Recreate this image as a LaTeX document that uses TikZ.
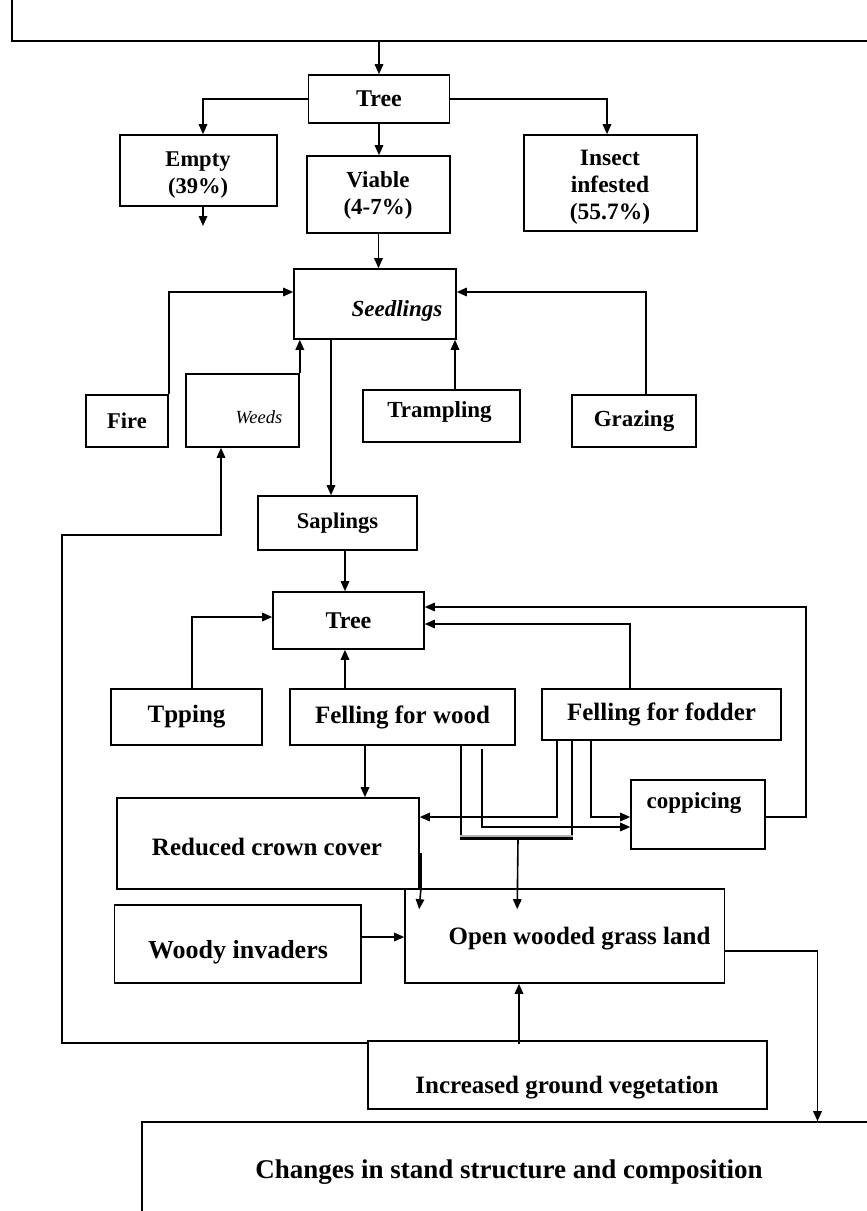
\documentclass[tikz,border=0pt]{standalone}
\usepackage{fontspec}
\setmainfont{Liberation Serif}
\usetikzlibrary{arrows.meta}
\begin{document}
\begin{tikzpicture}[x=1pt,y=-1pt,
  ln/.style={line width=1.6pt},
  box/.style 2 args={draw, line width=1.6pt, inner sep=0pt, minimum width=#1pt, minimum height=#2pt},
  t/.style={inner sep=0pt, align=center, font=\bfseries\fontsize{#1}{27}\selectfont},
  arr/.style={line width=1.6pt, -{Triangle[length=10pt,width=8.5pt]}}]
\useasboundingbox (0,0) rectangle (867,1211);
\clip (0,0) rectangle (867,1211);

% ---- top part
\coordinate (tl) at (12,-2);
\coordinate (tr) at (880,41);
\node[box={141}{48}, t=24] (tree1) at (379,99) {Tree};
\node[box={157}{71}] (empty) at (198.5,170.5) {};
\node[t=22.5] (emptyT) at (198,175) {Empty\\(39\%)};
\node[box={173}{96}] (insect) at (610.5,183) {};
\node[t=23.5] (insectT) at (610,187) {Insect\\infested\\(55.7\%)};
\node[box={143}{77}] (viable) at (378.5,194.5) {};
\node[t=23] (viableT) at (378,195) {Viable\\(4-7\%)};
\coordinate (emptyout) at (203,226);

% ---- seedlings part
\node[box={162}{70}] (seed) at (375,304) {};
\node[t=23] (seedT) at (397,311) {\itshape Seedlings};
\node[box={82}{52}, t=22.5] (fire) at (127,421) {Fire};
\node[box={113}{73}] (weeds) at (242.5,410.5) {};
\node[inner sep=0pt, font=\itshape\fontsize{18.5}{20}\selectfont] (weedsT) at (259,417) {Weeds};
\node[box={157}{52}] (tramp) at (441.5,416) {};
\node[t=23] (trampT) at (439.5,412) {Trampling};
\node[box={124}{52}, t=23] (graz) at (634,421) {Grazing};
\node[box={159}{54}, t=22.5] (sap) at (337.5,523) {Saplings};
\coordinate (lp) at (62,535);

% ---- tree part
\node[box={151}{57}, t=24] (tree2) at (348.5,620.5) {Tree};
\node[box={151}{56}, t=25] (tpp) at (186.5,717) {Tpping};
\node[box={225}{56}, t=25] (ffw) at (402.5,717) {Felling for wood};
\node[box={239}{51}, t=25] (fff) at (661.5,714.5) {Felling for fodder};
\node[box={134}{69}] (copp) at (698,814.5) {};
\node[t=23] (coppT) at (694,803) {coppicing};
\node[box={302}{91}] (rcc) at (268,843.5) {};
\node[t=25] (rccT) at (267,847) {Reduced crown cover};

% ---- bottom part
\node[box={319.5}{94}] (open) at (564.75,936) {};
\node[t=25] (openT) at (579.5,939) {Open wooded grass land};
\node[box={246.5}{78}] (woody) at (237.75,944) {};
\node[t=26] (woodyT) at (238,952) {Woody invaders};
\node[box={399}{68}] (incr) at (567.5,1075) {};
\node[t=25] (incrT) at (567,1088) {Increased ground vegetation};
\node[box={760}{140}] (chg) at (522,1192) {};
\node[t=27] (chgT) at (509,1172) {Changes in stand structure and composition};

\coordinate (barL) at (460,836);
\coordinate (barR) at (573,836);
\coordinate (barM) at (518,839);

% ---- connectors
\draw[ln] (tl) |- (tr);
\draw[arr] (tree1.north |- tr) -- (tree1.north);
\draw[arr] (tree1.west) -| ([xshift=4.5pt]empty.north);
\draw[arr] ([xshift=4.5pt]empty.south) -- (emptyout);
\draw[arr] (tree1.east) -| ([xshift=-3.5pt]insect.north);
\draw[arr] (tree1.south) -- (tree1.south |- viable.north);
\draw[arr] (viable.south) -- (viable.south |- seed.north);

\draw[arr] (fire.north east) |- ([yshift=12pt]seed.west);
\draw[arr] (weeds.north east) -- (weeds.north east |- seed.south);
\draw[arr] ([xshift=13.5pt]tramp.north) -- ([xshift=80pt]seed.south);
\draw[arr] ([xshift=12pt]graz.north) |- ([yshift=12pt]seed.east);
\draw[arr] ([xshift=-44pt]seed.south) -- ([xshift=-6.5pt]sap.north);
\draw[arr] ([yshift=-3pt]incr.north west) -| (lp) -| ([xshift=-21.5pt]weeds.south);

\draw[arr] ([xshift=7.5pt]sap.south) -- ([xshift=-3.5pt]tree2.north);
\draw[arr] ([xshift=5.5pt]tpp.north) |- ([yshift=3.5pt]tree2.west);
\draw[arr] ([xshift=-57.5pt]ffw.north) -- ([xshift=-3.5pt]tree2.south);
\draw[arr] ([xshift=-31.5pt]fff.north) |- ([yshift=-3.5pt]tree2.east);
\draw[arr] ([yshift=-2.5pt]copp.east) -- ++(40,0) |- ([yshift=13.5pt]tree2.east);
\draw[arr] ([xshift=-37.5pt]ffw.south) -- ([xshift=97pt]rcc.north);

\draw[ln] ([xshift=58.5pt]ffw.south) -- ++(0,91);
\draw[arr] ([xshift=79.5pt]ffw.south) ++(0,3) |- ([yshift=-12.5pt]copp.west);
\draw[arr] ([xshift=-104.5pt]fff.south) |- ([yshift=26.5pt]rcc.east);
\draw[ln] ([xshift=-89.5pt]fff.south) -- ++(0,96);
\draw[arr] ([xshift=-70.5pt]fff.south) |- ([yshift=-2.5pt]copp.west);
\draw[gray!60, line width=1.6pt] (barL) -- (barR);
\draw[line width=2.8pt] ([yshift=-2.6pt]barL) -- ([yshift=-2.6pt]barR);
\draw[arr] (barM) -- ([xshift=113pt,yshift=-21pt]open.north west);
\draw[line width=2.8pt] ([xshift=1pt,yshift=-9.5pt]rcc.east) -- ([xshift=1pt]rcc.south east);
\draw[arr] ([xshift=1pt]rcc.south east) -- ([xshift=15pt,yshift=-21pt]open.north west);

\draw[arr] ([yshift=7pt]woody.east) -- ([yshift=-1pt]open.west);
\draw[arr] ([xshift=-48.5pt,yshift=-4pt]incr.north) -- ([xshift=-45.75pt]open.south);
\draw[arr] ([yshift=-15pt]open.east) -| ([xshift=295.5pt]chg.north);
\end{tikzpicture}
\end{document}
